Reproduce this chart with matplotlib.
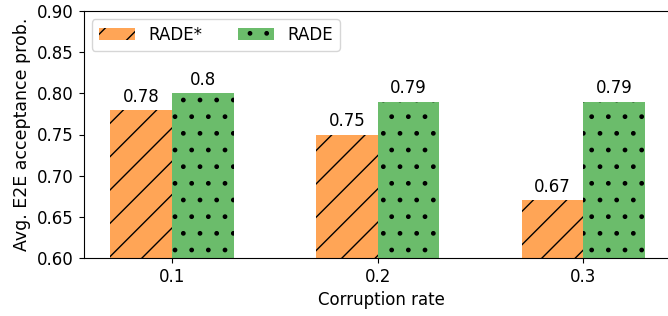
import matplotlib
matplotlib.use('Agg')
import matplotlib.pyplot as plt
import numpy as np

rates = ['0.1', '0.2', '0.3']
rade_star = [0.78, 0.75, 0.67]
rade = [0.8, 0.79, 0.79]

x = np.arange(len(rates))
width = 0.3

fig = plt.figure(figsize=(6.68, 3.16), dpi=100)
ax = fig.add_axes([83.5 / 668, 58 / 316, (680 - 83.5) / 668, (258 - 11) / 316])

b1 = ax.bar(x - width / 2, rade_star, width, color='#ffa556', hatch='/', label='RADE*')
b2 = ax.bar(x + width / 2, rade, width, color='#6bbc6b', hatch='.', label='RADE')
ax.bar_label(b1, padding=3, fontsize=12)
ax.bar_label(b2, padding=3, fontsize=12)

ax.set_ylim(0.6, 0.9)
ax.set_xlim(-0.43, 2.47)
ax.set_xticks(x)
ax.set_xticklabels(rates)
ax.tick_params(labelsize=12)
ax.set_xlabel('Corruption rate', fontsize=12)
ax.set_ylabel('Avg. E2E acceptance prob.', fontsize=12.5)
ax.legend(loc='upper left', ncol=2, fontsize=12, columnspacing=2.1, handlelength=2.2)

fig.savefig('out.png', dpi=100)
